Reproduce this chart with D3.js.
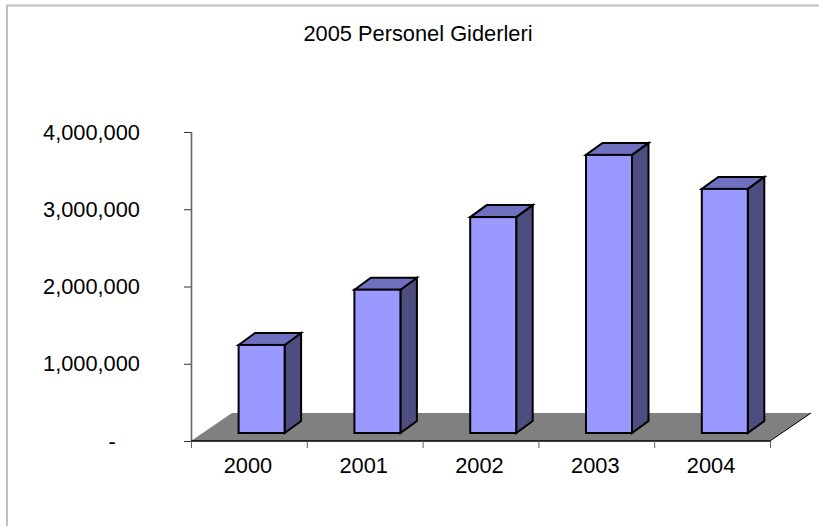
<!DOCTYPE html>
<html><head><meta charset="utf-8">
<script src="https://cdn.jsdelivr.net/npm/d3@7"></script>
<style>html,body{margin:0;padding:0;background:#fff}svg{display:block}text{font-family:"Liberation Sans",Arial,sans-serif;fill:#000}</style>
</head><body><div id="chart"></div>
<script>
const categories = ["2000","2001","2002","2003","2004"];
const values = [1140000,1855000,2795000,3600000,3160000];
const yTicks = [0,1000000,2000000,3000000,4000000];
const title = "2005 Personel Giderleri";

const W=819,H=526, x0=191,x1=770,yBase=441,yTop=132, dx=16.5,dy=-12, floorDx=41,floorDy=-28, lift=8, fs=21.8;
const svg=d3.select("#chart").append("svg").attr("width",W).attr("height",H);
svg.append("path").attr("d",`M7,${H}V5.5H${W}`).attr("fill","none").attr("stroke","#c0c0c0").attr("stroke-width",2);
svg.append("text").attr("x",418).attr("y",41).attr("text-anchor","middle").style("font-size",fs+"px").text(title);

const x=d3.scaleBand().domain(categories).range([x0,x1]).paddingInner(0).paddingOuter(0);
const y=d3.scaleLinear().domain([0,4000000]).range([yBase,yTop]);

svg.append("path").attr("d",`M${x0},${yBase}L${x0+floorDx},${yBase+floorDy}H${x1+floorDx}L${x1},${yBase}Z`).attr("fill","#808080").attr("stroke","none");
svg.append("path").attr("d",`M${x1},${yBase}L${x1+floorDx},${yBase+floorDy}`).attr("fill","none").attr("stroke","#000").attr("stroke-width",1);

const fmt=v=>v===0?"-":d3.format(",")(v);
const gy=svg.append("g").attr("transform",`translate(${x0},0)`).call(d3.axisLeft(y).tickValues(yTicks).tickFormat(fmt).tickSize(7));
gy.selectAll("text").style("font-size",fs+"px").style("font-family",'"Liberation Sans",Arial,sans-serif')
  .attr("text-anchor","middle").attr("dy",0).attr("y",7).attr("x",d=>d===0?-79:-99.5);
gy.select(".domain").attr("stroke","#666").attr("stroke-width",1.6).attr("d",`M0.5,${yTop}V${yBase}`);
gy.selectAll("line").attr("stroke","#333");

const gx=svg.append("g").attr("transform",`translate(0,${yBase})`).call(d3.axisBottom(x).tickSize(0).tickPadding(0));
gx.selectAll("text").style("font-size",fs+"px").style("font-family",'"Liberation Sans",Arial,sans-serif').attr("y",32).attr("dy",0).attr("x",-1);
gx.select(".domain").attr("stroke","#000").attr("stroke-width",1.4).attr("d",`M${x0},0H${x1}`);
const bounds=categories.map(c=>x(c)).concat([x1]);
gx.selectAll("line.sep").data(bounds).enter().append("line").attr("class","sep").attr("x1",d=>d+.5).attr("x2",d=>d+.5).attr("y1",0).attr("y2",7).attr("stroke","#606060");

const barW=46, off=47.6;
const bars=svg.append("g").selectAll("g").data(categories.map((c,i)=>({c,v:values[i]}))).enter().append("g");
const sty=s=>s.attr("stroke","#000").attr("stroke-width",2).attr("stroke-linejoin","miter");
const L=d=>x(d.c)+off, R=d=>L(d)+barW, T=d=>y(d.v)-lift, B=()=>yBase-lift;
bars.append("path").attr("d",d=>`M${R(d)},${T(d)}l${dx},${dy}V${B()+dy}l${-dx},${-dy}Z`).attr("fill","#4d4d80").call(sty);
bars.append("path").attr("d",d=>`M${L(d)},${T(d)}l${dx},${dy}H${R(d)+dx}l${-dx},${-dy}Z`).attr("fill","#7070c0").call(sty);
bars.append("rect").attr("x",L).attr("y",T).attr("width",barW).attr("height",d=>B()-T(d)).attr("fill","#9999ff").call(sty);
</script></body></html>
